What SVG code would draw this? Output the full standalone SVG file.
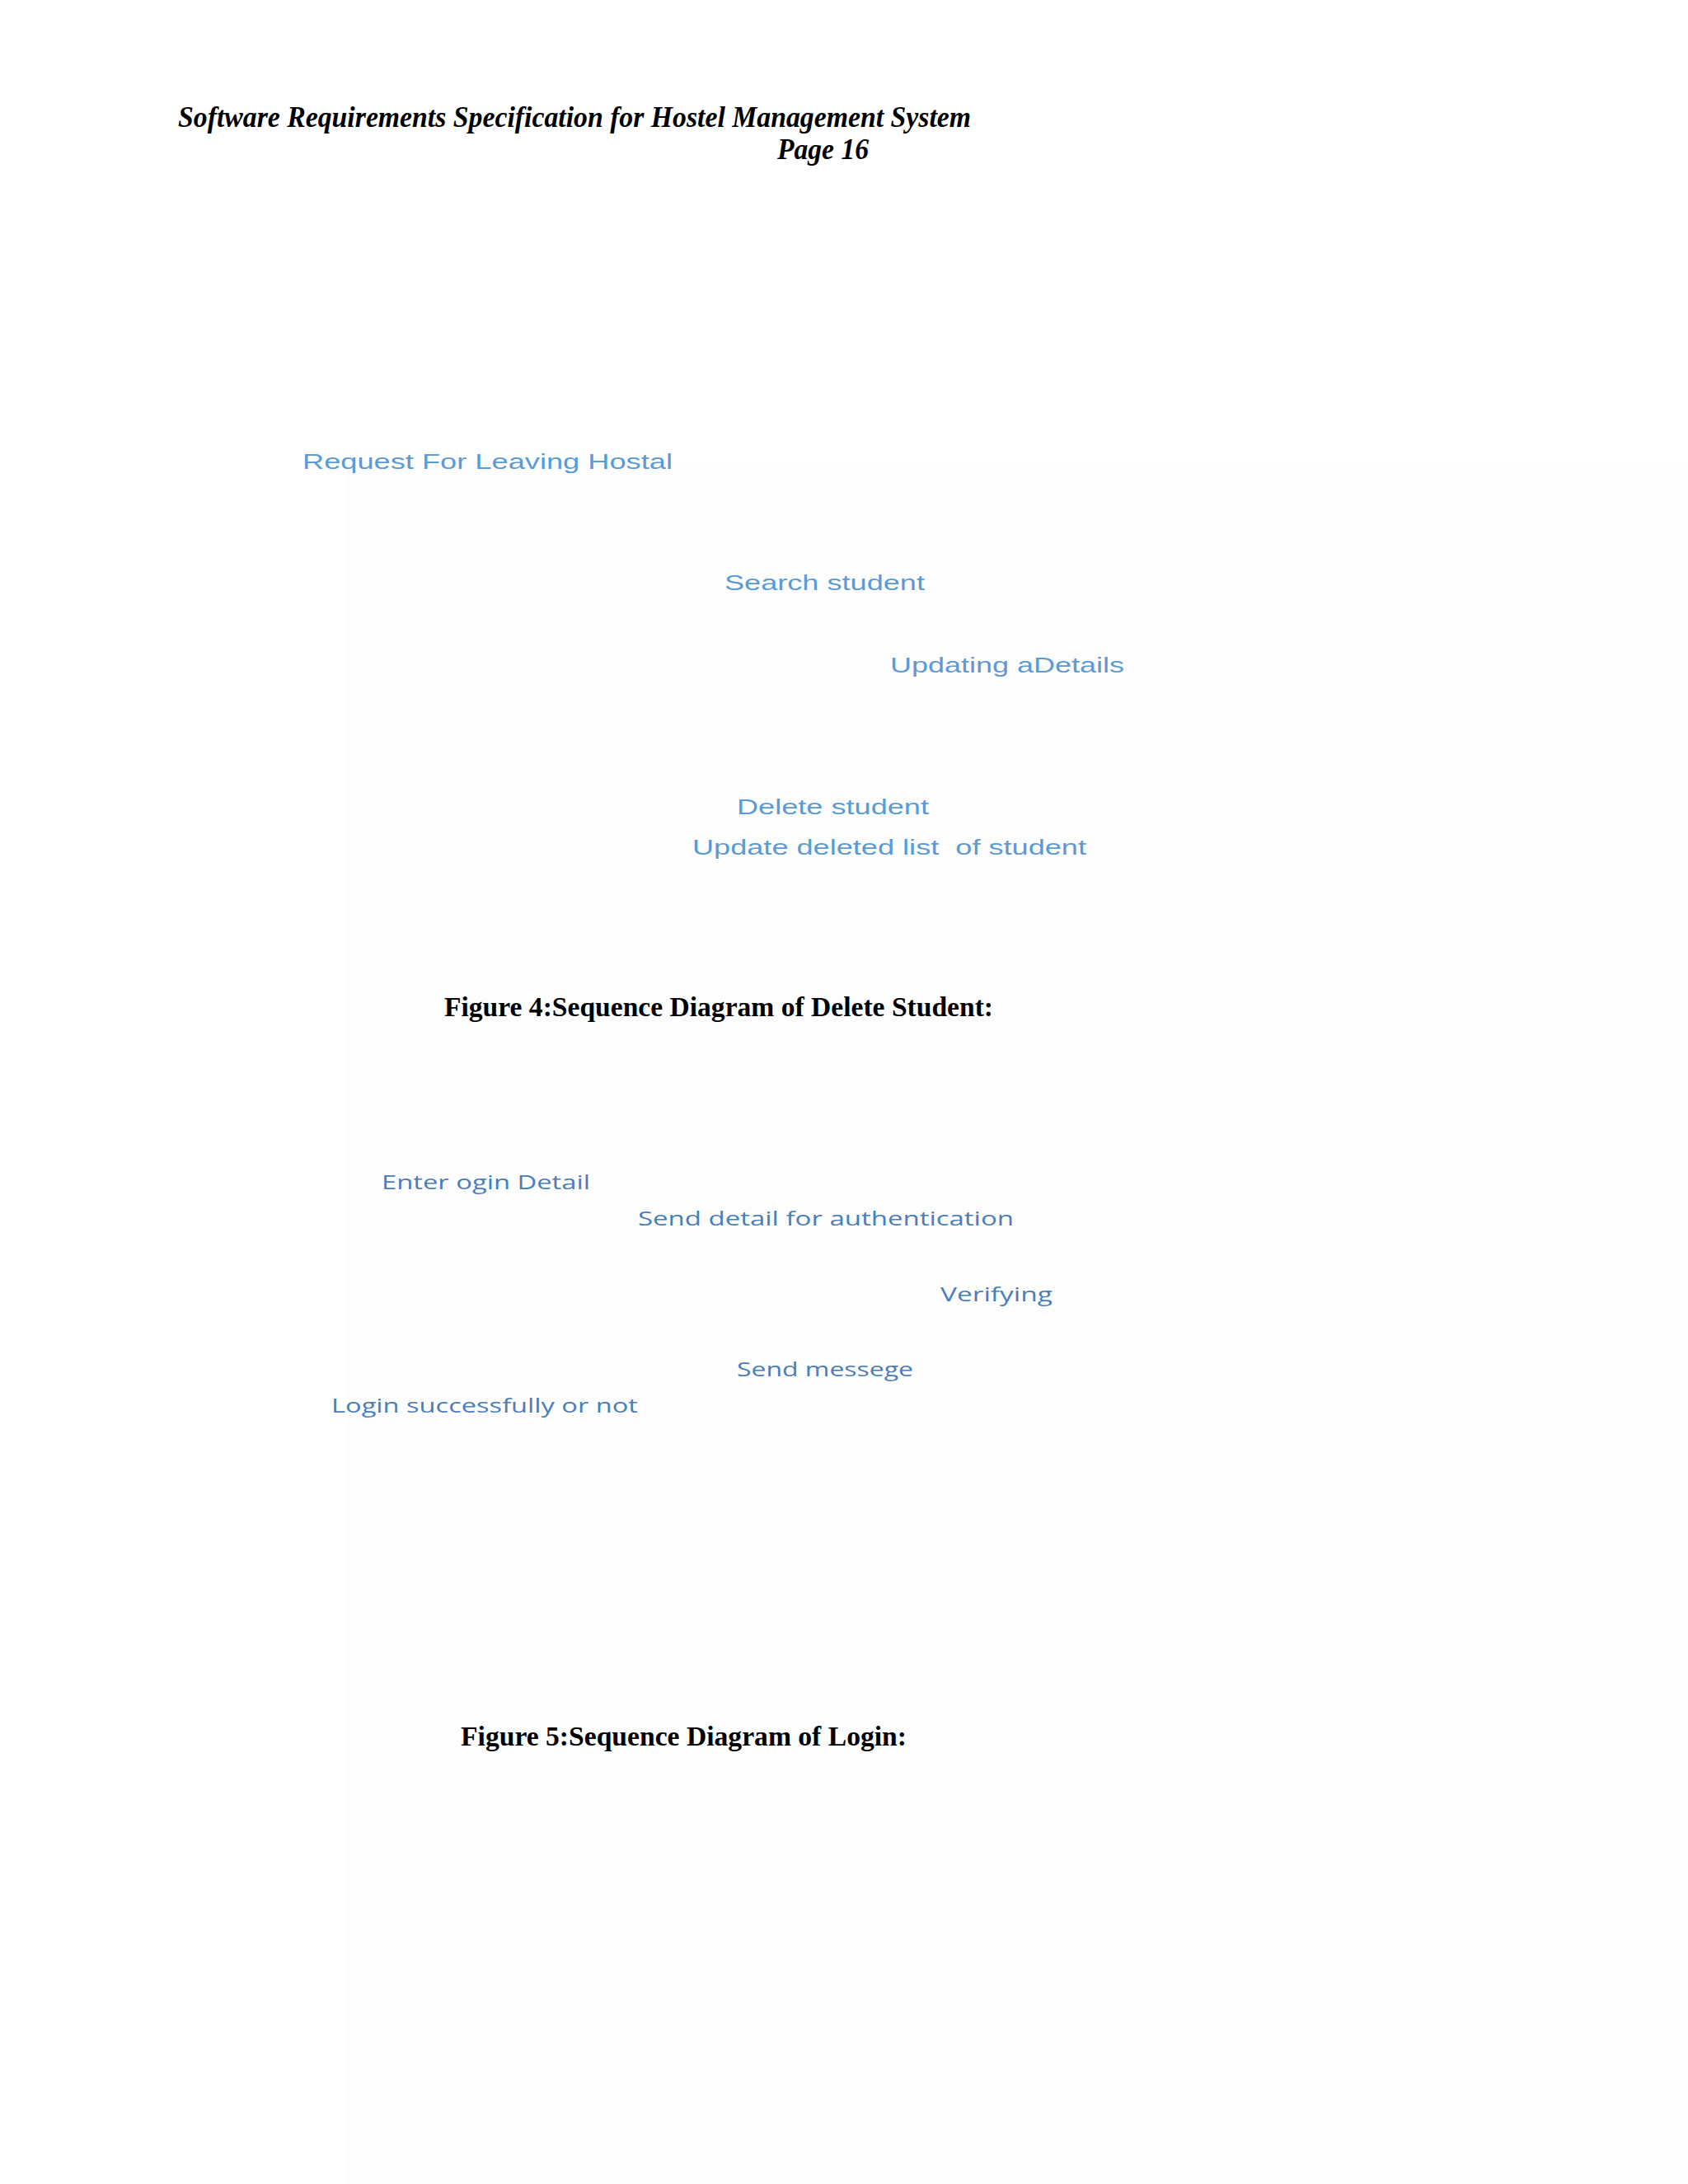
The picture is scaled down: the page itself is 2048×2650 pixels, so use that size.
<svg xmlns="http://www.w3.org/2000/svg" width="2048" height="2650" viewBox="0 0 2048 2650">
<style>
.hdr{font-family:"Liberation Serif","Times New Roman",serif;font-weight:bold;font-style:italic;font-size:36px;fill:#000}
.cap{font-family:"Liberation Serif","Times New Roman",serif;font-weight:bold;font-size:34px;fill:#000}
.msg{font-family:"Liberation Sans",Arial,sans-serif;font-size:26px;fill:#5b9bd5}
.msg2{font-family:"Open Sans","Noto Sans",sans-serif;font-size:23px;fill:#4a7ebb}
</style>
<rect x="0" y="0" width="2048" height="2650" fill="#ffffff"/>
<rect x="420" y="560" width="1628" height="2090" fill="#fdfdfe"/>
<g id="header">
<text class="hdr" x="216" y="154" textLength="962" lengthAdjust="spacingAndGlyphs">Software Requirements Specification for Hostel Management System</text>
<text class="hdr" x="943" y="193" textLength="111" lengthAdjust="spacingAndGlyphs">Page 16</text>
</g>
<g id="figure4">
<g id="msg-request"><text class="msg" x="367" y="569" textLength="449" lengthAdjust="spacingAndGlyphs">Request For Leaving Hostal</text></g>
<g id="msg-search"><text class="msg" x="879" y="716" textLength="243" lengthAdjust="spacingAndGlyphs">Search student</text></g>
<g id="msg-updating"><text class="msg" x="1080" y="816" textLength="284" lengthAdjust="spacingAndGlyphs">Updating aDetails</text></g>
<g id="msg-delete"><text class="msg" x="894" y="988" textLength="233" lengthAdjust="spacingAndGlyphs">Delete student</text></g>
<g id="msg-update-list"><text class="msg" x="840" y="1037" textLength="478" lengthAdjust="spacingAndGlyphs" xml:space="preserve">Update deleted list  of student</text></g>
<g id="caption4"><text class="cap" x="539" y="1233" textLength="666" lengthAdjust="spacingAndGlyphs">Figure 4:Sequence Diagram of Delete Student:</text></g>
</g>
<g id="figure5">
<g id="msg-enter"><text class="msg2" x="463" y="1443" textLength="253" lengthAdjust="spacingAndGlyphs">Enter ogin Detail</text></g>
<g id="msg-send-detail"><text class="msg2" x="774" y="1487" textLength="456" lengthAdjust="spacingAndGlyphs">Send detail for authentication</text></g>
<g id="msg-verifying"><text class="msg2" x="1141" y="1579" textLength="136" lengthAdjust="spacingAndGlyphs">Verifying</text></g>
<g id="msg-send-messege"><text class="msg2" x="894" y="1670" textLength="214" lengthAdjust="spacingAndGlyphs">Send messege</text></g>
<g id="msg-login-result"><text class="msg2" x="402" y="1714" textLength="372" lengthAdjust="spacingAndGlyphs">Login successfully or not</text></g>
<g id="caption5"><text class="cap" x="559" y="2118" textLength="541" lengthAdjust="spacingAndGlyphs">Figure 5:Sequence Diagram of Login:</text></g>
</g>
<g id="connectors"></g>
</svg>
